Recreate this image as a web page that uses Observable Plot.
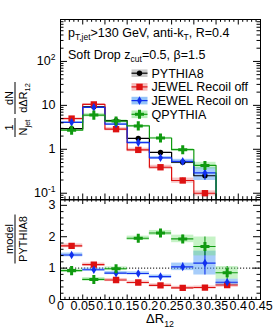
<!DOCTYPE html>
<html><head><meta charset="utf-8">
<script src="https://cdn.jsdelivr.net/npm/d3@7"></script>
<script src="https://cdn.jsdelivr.net/npm/@observablehq/plot@0.6"></script>
<style>
body{margin:0;background:#fff;}
#wrap{position:relative;width:274px;height:333px;font-family:"Liberation Sans",Arial,sans-serif;}
#wrap svg{position:absolute;left:0;overflow:visible;}
</style></head><body><div id="wrap"></div>
<script>
// ---------------- data ----------------
const binLo = [0, 0.05, 0.1, 0.15, 0.2, 0.25, 0.3, 0.35];
const binHi = [0.05, 0.1, 0.15, 0.2, 0.25, 0.3, 0.35, 0.4];
const seriesNames = ["PYTHIA8", "JEWEL Recoil off", "JEWEL Recoil on", "QPYTHIA"];
// 1/N dN/dR12 (top panel)
const pythia8  = [2.95, 9.3, 4.5, 1.77, 0.85, 0.51, 0.25, 0.06];
const jewelOff = [5.0, 10.5, 2.87, 0.97, 0.39, 0.195, 0.10, 0.028];
const jewelOn  = [4.1, 9.0, 3.75, 1.42, 0.64, 0.53, 0.29, 0.033];
const qpythia  = [2.72, 6.0, 4.4, 3.41, 1.81, 0.98, 0.43, 0.051];
// model / PYTHIA8 (bottom panel)
const ratioOff = [1.71, 1.11, 0.62, 0.54, 0.45, 0.37, 0.38, 0.46];
const ratioOn  = [1.42, 0.95, 0.84, 0.83, 0.73, 1.04, 1.16, 0.55];
const ratioQ   = [0.92, 0.64, 0.98, 1.95, 2.12, 1.93, 1.69, 0.85];
// uncertainties (ratio units)
const errOff = [0.06, 0.05, 0.05, 0.05, 0.05, 0.05, 0.05, 0.07];
const errOn  = [0.06, 0.05, 0.05, 0.05, 0.05, 0.12, 0.38, 0.10];
const errQ   = [0.05, 0.06, 0.06, 0.07, 0.08, 0.12, 0.30, 0.20];
// tick labels
const xTickLabels = ["0","0.05","0.1","0.15","0.2","0.25","0.3","0.35","0.4","0.45"];
const yTopTickValues = [0.1, 1, 10, 100];
const yTopTickLabels = ["10^-1", "1", "10", "10^2"];
const yRatioTickLabels = ["0", "1", "2", "3"];

// ---------------- layout ----------------
const W = 274, ML = 60, MR = 14, FW = W - ML - MR;
const FONT = "Liberation Sans, Arial, Helvetica, sans-serif";
const series = [
  {name: seriesNames[0], vals: pythia8, ratio: null, err: null, color: "#000000", band: "#bdbdbd", bandOp: 1, symbol: "circle", r: 2.7},
  {name: seriesNames[1], vals: jewelOff, ratio: ratioOff, err: errOff, color: "#dd1111", band: "#f08a8a", bandOp: 0.5, symbol: "square", r: 3.6},
  {name: seriesNames[2], vals: jewelOn, ratio: ratioOn, err: errOn, color: "#1030ee", band: "#4f9cf5", bandOp: 0.5, symbol: "diamond", r: 2.6},
  {name: seriesNames[3], vals: qpythia, ratio: ratioQ, err: errQ, color: "#109a10", band: "#70e070", bandOp: 0.4, symbol: "cross", r: 3.8}
];
const topRows = s => s.vals.map((v, i) => ({lo: binLo[i], hi: binHi[i], c: (binLo[i] + binHi[i]) / 2, v,
  rel: s.ratio ? s.err[i] / s.ratio[i] : 0}));
const ratioRows = s => s.ratio.map((v, i) => ({lo: binLo[i], hi: binHi[i], c: (binLo[i] + binHi[i]) / 2, v, e: s.err[i]}));
const stepRows = s => [...s.vals.map((v, i) => ({x: binLo[i], y: v})), {x: binHi[binHi.length - 1], y: s.vals[s.vals.length - 1]}];

const xMaj = xTickLabels.map(Number);
const xMin = d3.range(1, 45).filter(i => i % 5).map(i => i / 100);
const yTopMin = d3.range(-2, 3).flatMap(e => d3.range(2, 10).map(k => k * Math.pow(10, e))).filter(v => v > 0.072 && v < 900);
const yRatMaj = yRatioTickLabels.map(Number);
const yRatMin = d3.range(1, 16).filter(i => i % 5).map(i => i * 0.2);

function frameTicks(fh, xm, xn, ym, yn, L) {
  const k = "#000";
  return [
    Plot.tickY(ym, {y: d => d, insetRight: FW - L.yM, stroke: k}),
    Plot.tickY(ym, {y: d => d, insetLeft: FW - L.yM, stroke: k}),
    Plot.tickY(yn, {y: d => d, insetRight: FW - L.ym, stroke: k}),
    Plot.tickY(yn, {y: d => d, insetLeft: FW - L.ym, stroke: k}),
    Plot.tickX(xm, {x: d => d, insetTop: fh - L.xM, stroke: k}),
    Plot.tickX(xm, {x: d => d, insetBottom: fh - L.xM, stroke: k}),
    Plot.tickX(xn, {x: d => d, insetTop: fh - L.xm, stroke: k}),
    Plot.tickX(xn, {x: d => d, insetBottom: fh - L.xm, stroke: k})
  ];
}

// ---------------- top panel ----------------
const topH = 200, topMT = 19, topMB = 1;
const topMarks = [];
for (const s of series) if (s.ratio) topMarks.push(Plot.rect(topRows(s), {x1: "lo", x2: "hi", y1: d => d.v * (1 - d.rel), y2: d => d.v * (1 + d.rel), fill: s.band, fillOpacity: s.bandOp, clip: true}));
for (const s of series) topMarks.push(Plot.line(stepRows(s), {x: "x", y: "y", curve: "step-after", stroke: s.color, strokeWidth: 1.2, clip: true}));
for (const s of series) {
  if (s.ratio) topMarks.push(Plot.ruleX(topRows(s), {x: "c", y1: d => d.v * (1 - d.rel), y2: d => d.v * (1 + d.rel), stroke: s.color, clip: true}));
  topMarks.push(Plot.dot(topRows(s), {x: "c", y: "v", symbol: s.symbol, r: s.r, fill: s.color, stroke: "none", clip: true}));
}
topMarks.push(...frameTicks(topH - topMT - topMB, xMaj, xMin, yTopTickValues, yTopMin, {yM: 7, ym: 3.5, xM: 5.5, xm: 2.8}));
topMarks.push(Plot.frame({stroke: "#000"}));

const topLab = new Map(yTopTickValues.map((v, i) => [v, yTopTickLabels[i]]));
const topSvg = Plot.plot({
  width: W, height: topH, marginTop: topMT, marginBottom: topMB, marginLeft: ML, marginRight: MR,
  style: {fontFamily: FONT, fontSize: "12.5px", background: "transparent", color: "#000"},
  x: {domain: [0, 0.45], axis: null},
  y: {type: "log", domain: [0.072, 900], ticks: yTopTickValues, tickFormat: d => topLab.get(d), tickSize: 0, tickPadding: 5, label: null},
  marks: topMarks
});

// ---------------- ratio panel ----------------
const botH = 134, botMT = 0.5, botMB = 34;
const botMarks = [Plot.ruleY([1], {stroke: "#000", strokeDasharray: "1.2,1.8", strokeWidth: 1})];
for (const s of series) if (s.ratio) botMarks.push(Plot.rect(ratioRows(s), {x1: "lo", x2: "hi", y1: d => d.v - d.e, y2: d => d.v + d.e, fill: s.band, fillOpacity: s.bandOp, clip: true}));
for (const s of series) if (s.ratio) {
  botMarks.push(Plot.ruleY(ratioRows(s), {x1: "lo", x2: "hi", y: "v", stroke: s.color, strokeWidth: 1.1, clip: true}));
  botMarks.push(Plot.ruleX(ratioRows(s), {x: "c", y1: d => d.v - d.e, y2: d => d.v + d.e, stroke: s.color, strokeWidth: 1.1, clip: true}));
  botMarks.push(Plot.dot(ratioRows(s), {x: "c", y: "v", symbol: s.symbol, r: s.r, fill: s.color, stroke: "none", clip: true}));
}
botMarks.push(...frameTicks(botH - botMT - botMB, xMaj, xMin, yRatMaj, yRatMin, {yM: 7, ym: 3.5, xM: 4.5, xm: 2.2}));
botMarks.push(Plot.frame({stroke: "#000"}));
const xLab = new Map(xMaj.map((v, i) => [v, xTickLabels[i]]));
const yLab = new Map(yRatMaj.map((v, i) => [v, yRatioTickLabels[i]]));
const botSvg = Plot.plot({
  width: W, height: botH, marginTop: botMT, marginBottom: botMB, marginLeft: ML, marginRight: MR,
  style: {fontFamily: FONT, fontSize: "12.5px", background: "transparent", color: "#000"},
  x: {domain: [0, 0.45], ticks: xMaj, tickFormat: d => xLab.get(d), tickSize: 0, tickPadding: 1.5, label: null},
  y: {domain: [0, 3.17], ticks: yRatMaj, tickFormat: d => yLab.get(d), tickSize: 0, tickPadding: 5, label: null},
  marks: botMarks
});

const wrap = document.getElementById("wrap");
topSvg.style.top = "0px";
botSvg.style.top = "199px";
wrap.appendChild(topSvg);
wrap.appendChild(botSvg);

// ---------------- text helpers ----------------
function superscripts(svg) {
  d3.select(svg).selectAll("text").each(function () {
    const t = this.textContent;
    if (t.includes("^")) {
      const [b, e] = t.split("^");
      this.textContent = "";
      const sel = d3.select(this);
      sel.append("tspan").text(b);
      sel.append("tspan").attr("dy", "-5").attr("font-size", "8.5px").text(e);
    }
  });
}
superscripts(topSvg);

function rich(parent, x, y, parts, size, anchor) {
  const t = parent.append("text").attr("x", x).attr("y", y).attr("font-size", size + "px")
    .attr("font-family", FONT).attr("fill", "#000").attr("text-anchor", anchor || "start");
  let off = 0;
  for (const [str, kind] of parts) {
    const target = kind === "sub" ? size * 0.3 : kind === "sup" ? -size * 0.4 : 0;
    const ts = t.append("tspan").text(str).attr("dy", target - off);
    if (kind) ts.attr("font-size", (size * 0.68) + "px");
    off = target;
  }
  return t;
}

const gT = d3.select(topSvg);
rich(gT, 68, 36.5, [["p"], ["T,jet", "sub"], [">130 GeV, anti-k"], ["T", "sub"], [", R=0.4"]], 12.5);
rich(gT, 68, 58.5, [["Soft Drop z"], ["cut", "sub"], ["=0.5, \u03B2=1.5"]], 12.5);

// legend
const symMap = {circle: d3.symbolCircle, square: d3.symbolSquare, diamond: d3.symbolDiamond, cross: d3.symbolCross};
series.forEach((s, i) => {
  const b = 77.5 + i * 13.7, cy = b - 4.3;
  gT.append("rect").attr("x", 131.5).attr("y", cy - 3.8).attr("width", 16).attr("height", 7.6)
    .attr("fill", s.band).attr("fill-opacity", s.ratio ? s.bandOp + 0.1 : 0.8);
  gT.append("line").attr("x1", 131.5).attr("x2", 147.5).attr("y1", cy).attr("y2", cy).attr("stroke", s.color).attr("stroke-width", 1.2);
  gT.append("path").attr("d", d3.symbol(symMap[s.symbol], Math.PI * s.r * s.r)()).attr("transform", `translate(139.5,${cy})`).attr("fill", s.color);
  rich(gT, 151.5, b, [[s.name]], 12.5, "start");
});

// rotated fractions
function rotFrac(parent, cy, numX, barX, denX, numParts, denParts, barLen, size) {
  const g1 = parent.append("g").attr("transform", `translate(${numX},${cy}) rotate(-90)`);
  rich(g1, 0, 0, numParts, size, "middle");
  const g2 = parent.append("g").attr("transform", `translate(${denX},${cy}) rotate(-90)`);
  rich(g2, 0, 0, denParts, size, "middle");
  parent.append("line").attr("x1", barX).attr("x2", barX).attr("y1", cy - barLen / 2).attr("y2", cy + barLen / 2)
    .attr("stroke", "#000").attr("stroke-width", 1);
}
rotFrac(gT, 98, 12.5, 15, 26.5, [["dN"]], [["d\u0394R"], ["12", "sub"]], 32, 11);
rotFrac(gT, 127.5, 12.5, 15, 26.5, [["1"]], [["N"], ["jet", "sub"]], 19, 11);

const gB = d3.select(botSvg);
rotFrac(gB, 239 - 199, 12.5, 15, 27, [["model"]], [["PYTHIA8"]], 49, 11);
rich(gB, 160, 323 - 199, [["\u0394R"], ["12", "sub"]], 13, "middle");
</script></body></html>
